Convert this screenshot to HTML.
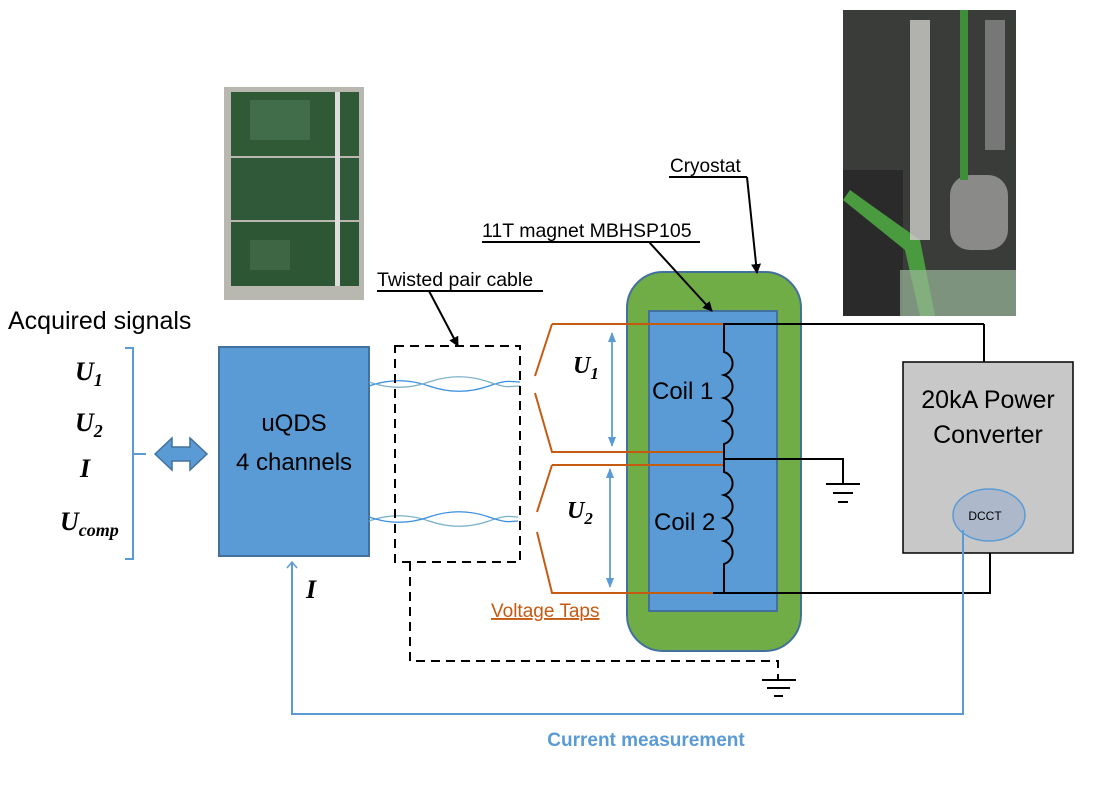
<!DOCTYPE html>
<html><head><meta charset="utf-8"><style>
html,body{margin:0;padding:0;background:#fff}
svg{display:block}
text{font-family:"Liberation Sans",sans-serif}
.s{font-family:"Liberation Serif",serif;font-weight:bold;font-style:italic}
</style></head><body>
<svg width="1103" height="796" viewBox="0 0 1103 796" xmlns="http://www.w3.org/2000/svg">
<defs>
<marker id="ab" markerWidth="10" markerHeight="10" refX="9" refY="5" orient="auto" markerUnits="userSpaceOnUse"><path d="M0,0 L10,5 L0,10 z" fill="#000"/></marker>
<marker id="bl" markerWidth="10" markerHeight="10" refX="9" refY="5" orient="auto" markerUnits="userSpaceOnUse"><path d="M0,1 L10,5 L0,9 z" fill="#5b9bd5"/></marker>
<marker id="bo" markerWidth="12" markerHeight="12" refX="10" refY="6" orient="auto" markerUnits="userSpaceOnUse"><path d="M0,6 L10,6 M4,1 L10,6 L4,11" stroke="#5b9bd5" stroke-width="1.5" fill="none"/></marker>
</defs>

<!-- photo 1 -->
<rect x="224" y="87" width="140" height="213" fill="#b8b8b0"/>
<rect x="231" y="92" width="128" height="64" fill="#2f5a35"/>
<rect x="231" y="158" width="128" height="62" fill="#30593a"/>
<rect x="231" y="222" width="128" height="64" fill="#2d5634"/>
<rect x="250" y="100" width="60" height="40" fill="#4f7a58" opacity="0.6"/>
<rect x="335" y="92" width="5" height="194" fill="#ddd"/>
<rect x="250" y="240" width="40" height="30" fill="#4a7050" opacity="0.6"/>
<!-- photo 2 -->
<rect x="843" y="10" width="173" height="306" fill="#3a3c3a"/>
<rect x="843" y="170" width="60" height="146" fill="#2a2a2a"/>
<path d="M850,190 L920,240 L935,316 L920,316 L905,250 L843,200z" fill="#4a9a40"/>
<rect x="950" y="175" width="58" height="75" rx="20" fill="#8a8a88"/>
<rect x="910" y="20" width="20" height="220" fill="#d0d0cc" opacity="0.8"/>
<rect x="960" y="10" width="8" height="170" fill="#3f8f3a"/>
<rect x="985" y="20" width="20" height="130" fill="#777"/>
<rect x="900" y="270" width="116" height="46" fill="#9bb89a" opacity="0.7"/>

<!-- labels -->
<text x="8" y="329" font-size="25">Acquired signals</text>
<text class="s" x="75" y="380" font-size="26">U<tspan font-size="18" dy="6">1</tspan></text>
<text class="s" x="75" y="431" font-size="26">U<tspan font-size="18" dy="6">2</tspan></text>
<text class="s" x="80" y="477" font-size="26">I</text>
<text class="s" x="60" y="530" font-size="26">U<tspan font-size="18" dy="6">comp</tspan></text>
<path d="M125,348 H133 V559 H125 M133,454 H146" stroke="#5b9bd5" stroke-width="2" fill="none"/>
<path d="M155,454 L172,438 V447 H190 V438 L207,454 L190,470 V461 H172 V470 Z" fill="#5b9bd5" stroke="#41719c" stroke-width="1.5"/>

<!-- uQDS -->
<rect x="219" y="347" width="150" height="209" fill="#5b9bd5" stroke="#41719c" stroke-width="2"/>
<text x="294" y="431" font-size="24" text-anchor="middle">uQDS</text>
<text x="294" y="470" font-size="24" text-anchor="middle">4 channels</text>

<!-- twisted pairs -->
<path d="M369,386 C389,379 409,379 429,386 S469,393 489,386 S509,382 520,382" stroke="#3b8fe0" stroke-width="1.3" fill="none"/>
<path d="M369,382 C389,389 409,389 429,382 S469,375 489,382 S509,386 520,386" stroke="#7ab0c8" stroke-width="1.3" fill="none"/>
<path d="M369,521 C389,514 409,514 429,521 S469,528 489,521 S509,517 518,517" stroke="#7ab0c8" stroke-width="1.3" fill="none"/>
<path d="M369,517 C389,524 409,524 429,517 S469,510 489,517 S509,521 518,521" stroke="#3b8fe0" stroke-width="1.3" fill="none"/>

<!-- dashed box -->
<rect x="395" y="346" width="125" height="216" fill="none" stroke="#000" stroke-width="2" stroke-dasharray="9,6"/>
<path d="M410,562 V661 H778 V676" fill="none" stroke="#000" stroke-width="2" stroke-dasharray="9,6"/>
<path d="M778,676 V680 M762,680 H796 M767,688 H790 M774,696 H783" stroke="#000" stroke-width="2"/>

<!-- cryostat -->
<rect x="627" y="272" width="174" height="379" rx="36" fill="#70ad47" stroke="#41719c" stroke-width="2"/>
<rect x="649" y="311" width="128" height="300" fill="#5b9bd5" stroke="#41719c" stroke-width="2"/>
<text x="652" y="399" font-size="24">Coil 1</text>
<text x="654" y="530" font-size="24">Coil 2</text>

<!-- orange taps -->
<g stroke="#c55a11" stroke-width="2" fill="none">
<path d="M552,324 H723 M535,376 L552,324 M535,393 L552,452 H723"/>
<path d="M552,465 H723 M537,512 L552,465 M537,532 L552,593 H713"/>
</g>
<line x1="612" y1="440" x2="612" y2="333" stroke="#5b9bd5" stroke-width="1.5" marker-end="url(#bl)"/>
<line x1="612" y1="333" x2="612" y2="446" stroke="#5b9bd5" stroke-width="1.5" marker-end="url(#bl)"/>
<line x1="610" y1="580" x2="610" y2="469" stroke="#5b9bd5" stroke-width="1.5" marker-end="url(#bl)"/>
<line x1="610" y1="469" x2="610" y2="587" stroke="#5b9bd5" stroke-width="1.5" marker-end="url(#bl)"/>
<text class="s" x="573" y="373" font-size="24">U<tspan font-size="17" dy="6">1</tspan></text>
<text class="s" x="567" y="518" font-size="24">U<tspan font-size="17" dy="6">2</tspan></text>
<text x="491" y="617" font-size="19" fill="#c55a11" text-decoration="underline">Voltage Taps</text>

<!-- coils & wiring -->
<g stroke="#000" stroke-width="2" fill="none">
<path d="M984,324 H724 V352 a12,12 0 0 1 0,23 a12,12 0 0 1 0,23 a12,12 0 0 1 0,23 a12,12 0 0 1 0,23 V465"/>
<path d="M724,459 H843 V484"/>
<path d="M724,465 V472 a12,12 0 0 1 0,23 a12,12 0 0 1 0,23 a12,12 0 0 1 0,23 a12,12 0 0 1 0,23 V593"/>
<path d="M713,593 H990 V553"/>
<path d="M984,324 V362"/>
</g>
<path d="M826,484 H860 M833,493 H853 M838,502 H848" stroke="#000" stroke-width="2"/>

<!-- power converter -->
<rect x="903" y="362" width="170" height="191" fill="#c8c8c8" stroke="#000" stroke-width="1.5"/>
<text x="988" y="408" font-size="25" text-anchor="middle">20kA Power</text>
<text x="988" y="443" font-size="25" text-anchor="middle">Converter</text>
<ellipse cx="989" cy="515" rx="36" ry="26" fill="#adb9ca" stroke="#5b9bd5" stroke-width="1.5"/>
<text x="985" y="520" font-size="12" text-anchor="middle">DCCT</text>

<!-- current measurement -->
<path d="M963,530 V714 H292 V562" stroke="#5b9bd5" stroke-width="2" fill="none" marker-end="url(#bo)"/>
<text class="s" x="306" y="598" font-size="26">I</text>
<text x="646" y="746" font-size="19" font-weight="bold" fill="#5b9bd5" text-anchor="middle">Current measurement</text>

<!-- annotations -->
<text x="670" y="172" font-size="19">Cryostat</text>
<line x1="669" y1="177" x2="747" y2="177" stroke="#000" stroke-width="2"/>
<line x1="747" y1="177" x2="757" y2="273" stroke="#000" stroke-width="2" marker-end="url(#ab)"/>
<text x="482" y="237" font-size="19.5">11T magnet MBHSP105</text>
<line x1="482" y1="242" x2="700" y2="242" stroke="#000" stroke-width="2"/>
<line x1="649" y1="242" x2="712" y2="311" stroke="#000" stroke-width="2" marker-end="url(#ab)"/>
<text x="377" y="286" font-size="19.5">Twisted pair cable</text>
<line x1="377" y1="291" x2="543" y2="291" stroke="#000" stroke-width="2"/>
<line x1="429" y1="291" x2="458" y2="346" stroke="#000" stroke-width="2" marker-end="url(#ab)"/>
</svg>
</body></html>
